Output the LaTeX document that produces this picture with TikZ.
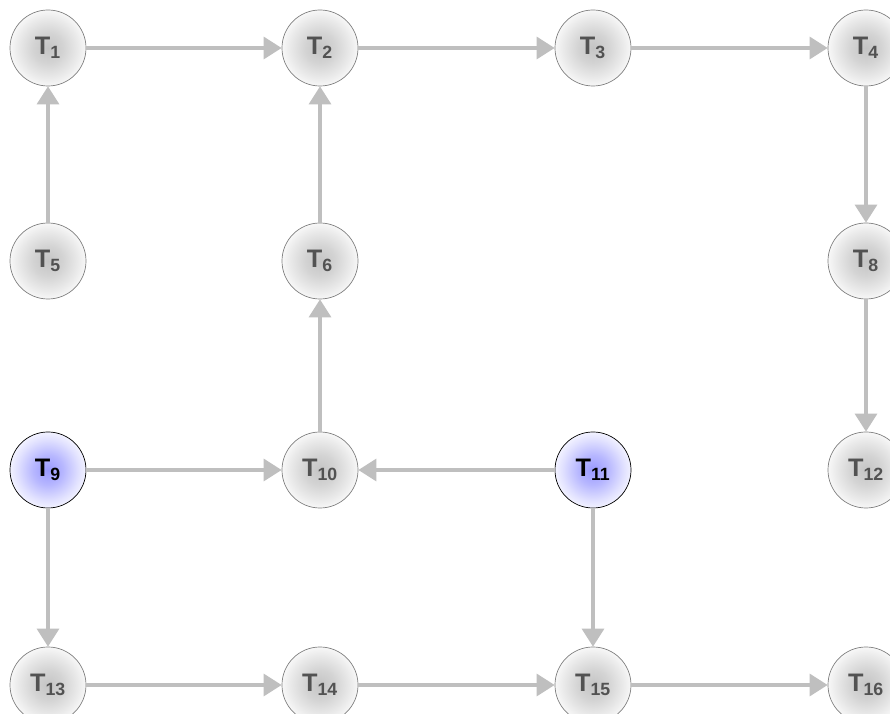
\documentclass[tikz,border=0pt]{standalone}
\usepackage{fontspec}
\setmainfont{Liberation Sans}
\usepackage{tikz}
\usetikzlibrary{arrows.meta}

% ball shadings for the task nodes (25bp = rim of the circle)
\pgfdeclareradialshading{grayball}{\pgfpoint{0bp}{0bp}}{color(0bp)=(black!23); color(10bp)=(black!17); color(20bp)=(black!8); color(25bp)=(black!3); color(50bp)=(white)}
\pgfdeclareradialshading{blueball}{\pgfpoint{0bp}{0bp}}{color(0bp)=(blue!40); color(10bp)=(blue!28); color(20bp)=(blue!12); color(25bp)=(blue!5); color(50bp)=(white)}

\begin{document}
\begin{tikzpicture}[
        x=0.025cm, y=-0.025cm,
        task/.style={circle, draw=black!50, line width=0.5pt, minimum size=1.9cm, inner sep=0pt, shading=grayball, text=black!68, font=\fontsize{18}{21}\selectfont\bfseries},
        seed/.style={task, draw=black, shading=blueball, text=black},
        arrow/.style={-{Triangle[length=0.45cm, width=0.55cm]}, line width=2.3pt, draw=black!25}
    ]
    \clip (0,0) rectangle (890,714);

    % ================= Row 1 =================
    \node[task] (t1) at (48, 48) {T\textsubscript{1}};
    \node[task] (t2) at (320, 48) {T\textsubscript{2}};
    \node[task] (t3) at (593, 48) {T\textsubscript{3}};
    \node[task] (t4) at (866, 48) {T\textsubscript{4}};

    % ================= Row 2 =================
    \node[task] (t5) at (48, 261) {T\textsubscript{5}};
    \node[task] (t6) at (320, 261) {T\textsubscript{6}};
    \node[task] (t8) at (866, 261) {T\textsubscript{8}};

    % ================= Row 3 =================
    \node[seed] (t9) at (48, 470) {T\textsubscript{9}};
    \node[task] (t10) at (320, 470) {T\textsubscript{10}};
    \node[seed] (t11) at (593, 470) {T\textsubscript{11}};
    \node[task] (t12) at (866, 470) {T\textsubscript{12}};

    % ================= Row 4 =================
    \node[task] (t13) at (48, 685) {T\textsubscript{13}};
    \node[task] (t14) at (320, 685) {T\textsubscript{14}};
    \node[task] (t15) at (593, 685) {T\textsubscript{15}};
    \node[task] (t16) at (866, 685) {T\textsubscript{16}};

    % Horizontal dependencies
    \draw[arrow] (t1) -- (t2);
    \draw[arrow] (t2) -- (t3);
    \draw[arrow] (t3) -- (t4);
    \draw[arrow] (t9) -- (t10);
    \draw[arrow] (t11) -- (t10);
    \draw[arrow] (t13) -- (t14);
    \draw[arrow] (t14) -- (t15);
    \draw[arrow] (t15) -- (t16);

    % Vertical dependencies
    \draw[arrow] (t5) -- (t1);
    \draw[arrow] (t6) -- (t2);
    \draw[arrow] (t10) -- (t6);
    \draw[arrow] (t4) -- (t8);
    \draw[arrow] (t8) -- (t12);
    \draw[arrow] (t9) -- (t13);
    \draw[arrow] (t11) -- (t15);

\end{tikzpicture}
\end{document}
